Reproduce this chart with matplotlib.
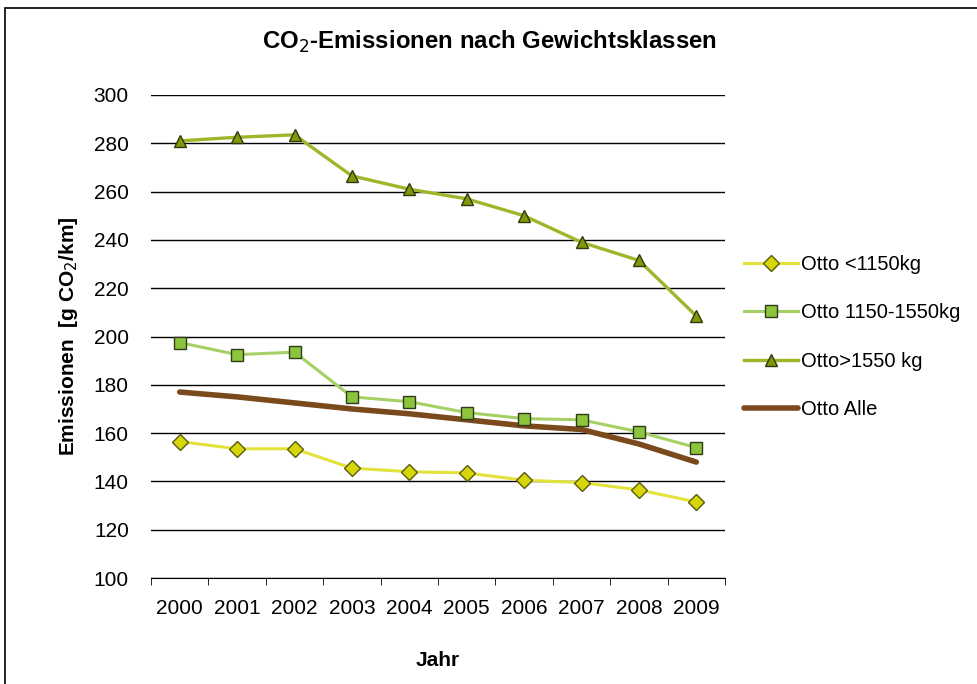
import matplotlib.pyplot as plt
from matplotlib.patches import Rectangle
import numpy as np

plt.rcParams['font.family'] = ['Liberation Sans', 'DejaVu Sans']

# ---- Daten ----
jahre = ["2000", "2001", "2002", "2003", "2004", "2005", "2006", "2007", "2008", "2009"]
otto_klein = [156.5, 153.5, 153.5, 145.5, 144.0, 143.5, 140.5, 139.5, 136.5, 131.5]
otto_mittel = [197.5, 192.5, 193.5, 175.0, 173.0, 168.5, 166.0, 165.5, 160.5, 154.0]
otto_gross = [281.0, 282.5, 283.5, 266.5, 261.0, 257.0, 250.0, 239.0, 231.5, 208.5]
otto_alle = [177.0, 175.0, 172.5, 170.0, 168.0, 165.5, 163.0, 161.5, 155.5, 148.0]

fig = plt.figure(figsize=(9.78, 6.84), dpi=100)
ax = fig.add_axes([151 / 978, 1 - 578 / 684, (725 - 151) / 978, (578 - 95) / 684])

# Rahmen um das Diagramm
fig.patches.append(Rectangle((5 / 978, -0.05), 1.1, 1.05 - 8 / 684,
                             transform=fig.transFigure, fill=False,
                             edgecolor="black", linewidth=1.2))

x = np.arange(len(jahre))

ax.plot(x, otto_klein, color="#e2e23a", linewidth=2.2, marker="D", markersize=8,
        markerfacecolor="#d6d60a", markeredgecolor="#5a5a10", markeredgewidth=1,
        label="Otto <1150kg", zorder=4)
ax.plot(x, otto_mittel, color="#a6d064", linewidth=2.2, marker="s", markersize=9,
        markerfacecolor="#8cc43c", markeredgecolor="#2e3a1a", markeredgewidth=1,
        label="Otto 1150-1550kg", zorder=4)
ax.plot(x, otto_gross, color="#a2b42a", linewidth=2.4, marker="^", markersize=9,
        markerfacecolor="#7f9a08", markeredgecolor="#33380c", markeredgewidth=1,
        label="Otto>1550 kg", zorder=4)
ax.plot(x, otto_alle, color="#7b4a1c", linewidth=4, solid_capstyle="round",
        label="Otto Alle", zorder=3)

ax.set_xlim(-0.5, len(jahre) - 0.5)
ax.set_ylim(100, 300)
ax.set_yticks(np.arange(100, 301, 20))
ax.yaxis.grid(True, color="black", linewidth=1)
ax.set_axisbelow(True)

# Kategorieachse: Teilstriche zwischen den Jahren
ax.set_xticks(x)
ax.set_xticklabels(jahre)
ax.set_xticks(np.arange(-0.5, len(jahre)), minor=True)
ax.tick_params(axis="x", which="major", length=0, pad=15, labelsize=15)
ax.tick_params(axis="x", which="minor", length=5, direction="out", color="black")
ax.tick_params(axis="y", length=0, pad=16, labelsize=15)

for side in ["top", "right", "left"]:
    ax.spines[side].set_visible(False)
ax.spines["bottom"].set_color("black")

ax.set_xlabel("Jahr", fontsize=15, fontweight="bold", labelpad=24)
ax.set_ylabel("Emissionen  [g CO$_2$/km]", fontsize=15, fontweight="bold", labelpad=10)
fig.text(0.5, 1 - 42 / 684, "CO$_2$-Emissionen nach Gewichtsklassen",
         ha="center", va="center", fontsize=17.3, fontweight="bold")

ax.legend(loc="center left", bbox_to_anchor=(744 / 978, 1 - 337 / 684),
          bbox_transform=fig.transFigure, frameon=False, fontsize=14.5,
          borderpad=0, borderaxespad=0, handlelength=2.7, labelspacing=1.45,
          handletextpad=0.15)

fig.savefig("out.png", dpi=100)
